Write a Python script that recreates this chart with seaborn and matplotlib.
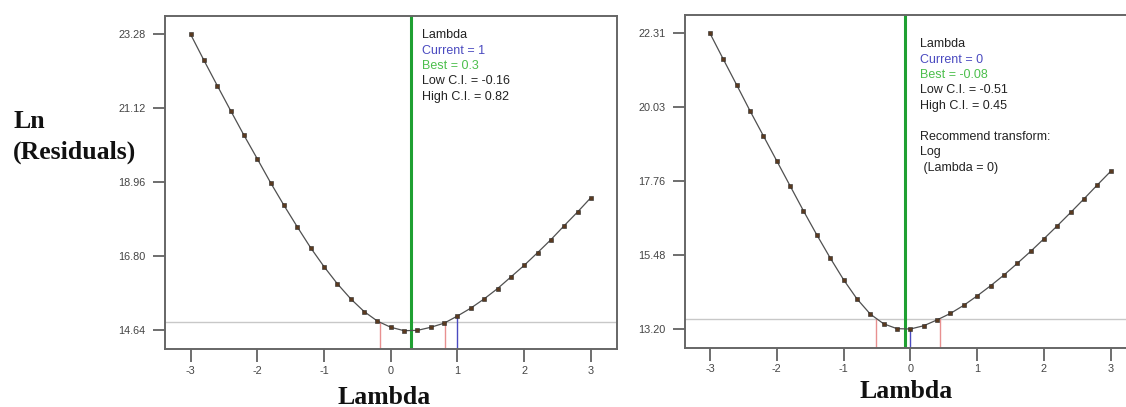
import numpy as np
import pandas as pd
import matplotlib
matplotlib.use("Agg")
import matplotlib.pyplot as plt
import seaborn as sns

# Box-Cox plots: Ln(Residuals) vs Lambda
lam = [-3.0, -2.8, -2.6, -2.4, -2.2, -2.0, -1.8, -1.6, -1.4, -1.2, -1.0,
       -0.8, -0.6, -0.4, -0.2, 0.0, 0.2, 0.4, 0.6, 0.8, 1.0,
       1.2, 1.4, 1.6, 1.8, 2.0, 2.2, 2.4, 2.6, 2.8, 3.0]

ln_res_a = [23.28, 22.52, 21.78, 21.05, 20.33, 19.64, 18.94, 18.28, 17.65, 17.04, 16.49,
            15.99, 15.55, 15.18, 14.90, 14.72, 14.62, 14.63, 14.72, 14.84, 15.05,
            15.28, 15.55, 15.85, 16.19, 16.53, 16.90, 17.28, 17.69, 18.09, 18.51]
ln_res_b = [22.31, 21.51, 20.72, 19.92, 19.15, 18.38, 17.61, 16.84, 16.10, 15.39, 14.72,
            14.13, 13.66, 13.36, 13.21, 13.20, 13.30, 13.48, 13.68, 13.93, 14.22,
            14.53, 14.86, 15.22, 15.59, 15.98, 16.38, 16.79, 17.21, 17.64, 18.06]

yticks_a = [14.64, 16.80, 18.96, 21.12, 23.28]
yticks_b = [13.20, 15.48, 17.76, 20.03, 22.31]
xticks = [-3, -2, -1, 0, 1, 2, 3]

# lambda stats: current, best, low CI, high CI, CI threshold level
stats_a = dict(current=1, best=0.3, low=-0.16, high=0.82, level=14.87)
stats_b = dict(current=0, best=-0.08, low=-0.51, high=0.45, level=13.52)

sns.set_style("white")
plt.rcParams['font.family'] = ['Liberation Sans', 'DejaVu Sans']

fig = plt.figure(figsize=(11.26, 4.07), dpi=100)
ax1 = fig.add_axes([0.1465, 0.1425, 0.4014, 0.818])
ax2 = fig.add_axes([0.6083, 0.1457, 0.3917, 0.8176])

green = "#1fa032"
blue = "#4a4ac0"
red = "#e89090"


def draw(ax, y, st, yticks, ylim, xlim):
    df = pd.DataFrame({"Lambda": lam, "LnRes": y})
    sns.lineplot(data=df, x="Lambda", y="LnRes", ax=ax, color="#505050", lw=0.9,
                 marker="s", markersize=2.4, markerfacecolor="#5a3a20",
                 markeredgecolor="#2a2a2a", markeredgewidth=0.4, zorder=3)
    ax.axhline(st["level"], color="#c8c8c8", lw=1.0, zorder=1)
    ax.axvline(st["best"], color=green, lw=2.2, zorder=2)
    ax.plot([st["low"], st["low"]], [ylim[0], st["level"]], color=red, lw=1.0, zorder=2)
    ax.plot([st["high"], st["high"]], [ylim[0], st["level"]], color=red, lw=1.0, zorder=2)
    cur_y = np.interp(st["current"], lam, y)
    ax.plot([st["current"], st["current"]], [ylim[0], cur_y], color=blue, lw=1.0, zorder=2)
    ax.set_xlim(xlim)
    ax.set_ylim(ylim)
    ax.set_xticks(xticks)
    ax.set_xticklabels([str(t) for t in xticks])
    ax.set_yticks(yticks)
    ax.set_yticklabels([f"{t:.2f}" for t in yticks])
    ax.tick_params(direction="out", length=9, width=1.2, color="#555555",
                   labelsize=7.8, labelcolor="#444444", pad=5, left=True, bottom=True)
    ax.tick_params(axis="x", pad=3)
    for s in ax.spines.values():
        s.set_color("#666666")
        s.set_linewidth(1.4)
    ax.set_xlabel("")
    ax.set_ylabel("")


draw(ax1, ln_res_a, stats_a, yticks_a, (14.085, 23.815), (-3.385, 3.39))
draw(ax2, ln_res_b, stats_b, yticks_b, (12.624, 22.874), (-3.374, 3.228))
ax2.spines["right"].set_visible(False)

fs = 9
# left annotation
x0 = 422 / 1126
lines_a = [("Lambda", "#222222", 35), ("Current = 1", blue, 50.7), ("Best = 0.3", "#4cbf4c", 66),
           ("Low C.I. = -0.16", "#222222", 81.3), ("High C.I. = 0.82", "#222222", 97)]
for t, c, yp in lines_a:
    fig.text(x0, 1 - yp / 407, t, color=c, fontsize=fs, va="center", ha="left")

x1 = 920 / 1126
lines_b = [("Lambda", "#222222", 44.3), ("Current = 0", blue, 60), ("Best = -0.08", "#4cbf4c", 75),
           ("Low C.I. = -0.51", "#222222", 90.3), ("High C.I. = 0.45", "#222222", 106),
           ("Recommend transform:", "#222222", 136.7), ("Log", "#222222", 152.3),
           (" (Lambda = 0)", "#222222", 167.7)]
for t, c, yp in lines_b:
    fig.text(x1, 1 - yp / 407, t, color=c, fontsize=fs, va="center", ha="left")

serif = ['Liberation Serif', 'DejaVu Serif']
fig.text(13 / 1126, 1 - 121 / 407, "Ln", family=serif, fontweight="bold", fontsize=18.5,
         va="center", ha="left", color="#111111")
fig.text(13 / 1126, 1 - 152 / 407, "(Residuals)", family=serif, fontweight="bold", fontsize=18.5,
         va="center", ha="left", color="#111111")
fig.text(384 / 1126, 1 - 397 / 407, "Lambda", family=serif, fontweight="bold", fontsize=18.5,
         va="center", ha="center", color="#111111")
fig.text(906 / 1126, 1 - 392 / 407, "Lambda", family=serif, fontweight="bold", fontsize=18.5,
         va="center", ha="center", color="#111111")

fig.savefig("out.png", dpi=100)
